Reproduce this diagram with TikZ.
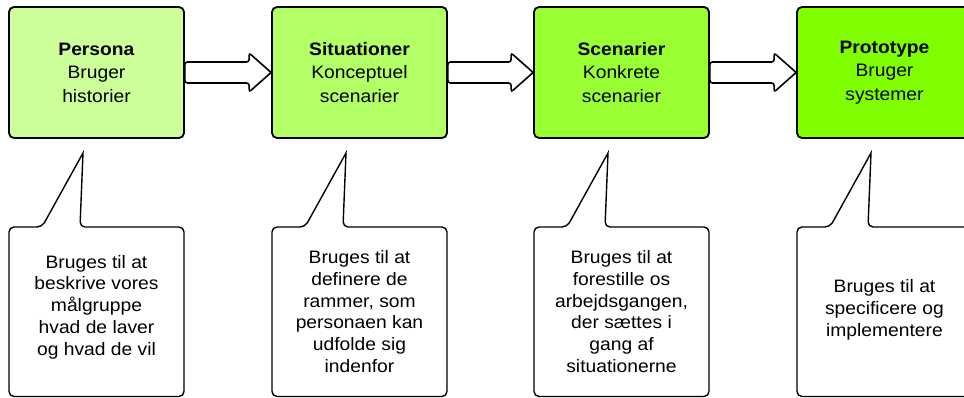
\documentclass[tikz,border=0pt]{standalone}
\usepackage{fontspec}
\setmainfont{Liberation Sans}[FakeStretch=1.07]
\usetikzlibrary{calc}
\definecolor{stepA}{HTML}{CCFF99}
\definecolor{stepB}{HTML}{B2FF66}
\definecolor{stepC}{HTML}{99FF33}
\definecolor{stepD}{HTML}{80FF00}
\tikzset{
  stagebox/.style={draw=black, line width=1.8pt, rounded corners=5pt,
    minimum width=175pt, minimum height=131pt, align=center,
    font=\fontsize{18}{23.6}\selectfont},
  blockarrow/.style={draw=black, fill=white, line width=1.6pt,
    rounded corners=2.5pt, line join=miter},
  bubble/.style={draw=black, fill=white, line width=1.4pt},
  bubbletext/.style={align=center, font=\fontsize{18}{21.7}\selectfont}
}
\begin{document}
\begin{tikzpicture}[x=1pt, y=-1pt]
  \useasboundingbox (0,0) rectangle (964,398);
  \clip (0,0) rectangle (964,398);
  \fill[white] (0,0) rectangle (964,398);

  % stage boxes
  \node[stagebox, fill=stepA] (p1) at (96.5,72.5)  {\textbf{Persona}\\Bruger\\historier};
  \node[stagebox, fill=stepB] (p2) at (359.5,72.5) {\textbf{Situationer}\\Konceptuel\\scenarier};
  \node[stagebox, fill=stepC] (p3) at (621.5,72.5) {\textbf{Scenarier}\\Konkrete\\scenarier};
  \node[stagebox, fill=stepD] (p4) at (884.5,72.5) {\textbf{Prototype}\\Bruger\\systemer};

  % block arrows between the stages
  \foreach \a/\b in {p1/p2, p2/p3, p3/p4}{
    \draw[blockarrow]
      ($(\a.east)+(0,-10.5)$) -- ($(\b.west)+(-22,-10.5)$) -- ($(\b.west)+(-22,-19.5)$)
      [sharp corners] -- (\b.west) [rounded corners=2.5pt]
      -- ($(\b.west)+(-22,19.5)$) -- ($(\b.west)+(-22,10.5)$) -- ($(\a.east)+(0,10.5)$) -- cycle;
  }

  % speech bubbles below each stage
  \foreach \L in {9,272,534,797}{
    \draw[bubble, rounded corners=5pt]
      (\L,300) -- (\L,227) -- (\L+33,227)
      [sharp corners] -- (\L+74,153) [rounded corners=5pt]
      -- (\L+71,227) -- (\L+175,227) -- (\L+175,396.5) -- (\L,396.5) -- cycle;
  }

  \node[bubbletext] (c1) at (96.5,307)  {Bruges til at\\beskrive vores\\målgruppe\\hvad de laver\\og hvad de vil};
  \node[bubbletext] (c2) at (359.5,311.5) {Bruges til at\\definere de\\rammer, som\\personaen kan\\udfolde sig\\indenfor};
  \node[bubbletext] (c3) at (621.5,311.5) {Bruges til at\\forestille os\\arbejdsgangen,\\der sættes i\\gang af\\situationerne};
  \node[bubbletext] (c4) at (884.5,310) {Bruges til at\\specificere og\\implementere};
\end{tikzpicture}
\end{document}
